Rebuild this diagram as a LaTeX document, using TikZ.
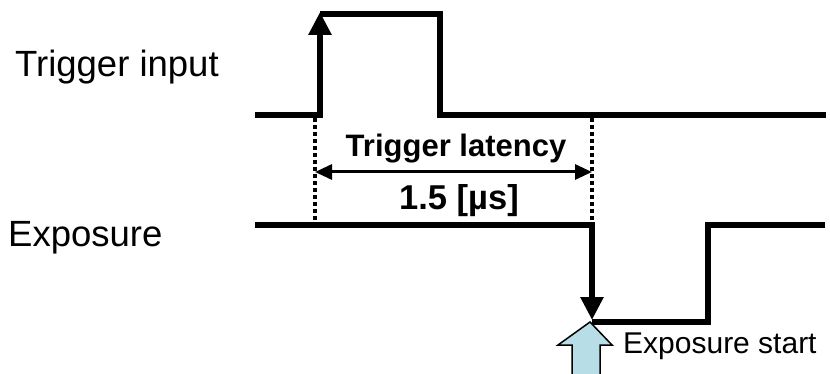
\documentclass[tikz,border=0pt]{standalone}
\usepackage{fontspec}
\setmainfont{Liberation Sans}
\usetikzlibrary{arrows.meta}
\definecolor{startblue}{RGB}{183,222,230}
\tikzset{
  signal/.style={line width=6pt, line join=miter, line cap=butt},
  edgearrow/.style={signal, -{Triangle[length=23pt,width=22pt]}},
  guide/.style={line width=3.5pt, dash pattern=on 4pt off 3pt},
  span/.style={line width=3pt, {Triangle[length=17pt,width=15pt]}-{Triangle[length=17pt,width=15pt]}},
  label/.style={inner sep=0pt, anchor=base west, font=\fontsize{36.5}{40}\selectfont},
  boldlabel/.style={inner sep=0pt, anchor=base, font=\fontsize{31}{34}\selectfont\bfseries},
  valuelabel/.style={inner sep=0pt, anchor=base, font=\fontsize{34.5}{38}\selectfont\bfseries},
  smalllabel/.style={inner sep=0pt, anchor=base west, font=\fontsize{30}{33}\selectfont},
}
\begin{document}
\begin{tikzpicture}[x=1pt, y=-1pt]
\useasboundingbox (0,0) rectangle (830,374);
\clip (0,0) rectangle (830,374);

% trigger waveform
\coordinate (t0) at (255,115);
\coordinate (trise) at (320,115);
\coordinate (ttop) at (320,12);
\coordinate (thigh) at (320,14);
\coordinate (tfallh) at (440,14);
\coordinate (tfalll) at (440,115);
\coordinate (tend) at (826,115);
\draw[edgearrow] (t0) -- (trise) -- (ttop);
\draw[signal] (thigh) -- (tfallh) -- (tfalll) -- (tend);

% exposure waveform
\coordinate (e0) at (255,225);
\coordinate (efall) at (592,225);
\coordinate (ebot) at (592,320);
\coordinate (elow) at (592,322);
\coordinate (erisel) at (708,322);
\coordinate (eriseh) at (708,225);
\coordinate (eend) at (825,225);
\draw[edgearrow] (e0) -- (efall) -- (ebot);
\draw[signal] (elow) -- (erisel) -- (eriseh) -- (eend);

% latency guides and span
\coordinate (g1a) at (315,118);
\coordinate (g1b) at (315,222);
\coordinate (g2a) at (592,118);
\coordinate (g2b) at (592,222);
\draw[guide] (g1a) -- (g1b);
\draw[guide] (g2a) -- (g2b);
\coordinate (s1) at (315,172);
\coordinate (s2) at (592,172);
\draw[span] (s1) -- (s2);
\node[boldlabel] (lat) at (456,157) {Trigger latency};
\node[valuelabel] (val) at (459,210) {1.5 [µs]};

% signal names
\node[label] (trig) at (15,77) {Trigger input};
\node[label] (expo) at (8,247) {Exposure};

% exposure start marker
\draw[line width=1.5pt, fill=startblue, line join=miter]
  (590,322) -- (612,345) -- (600,345) -- (600,380) -- (572,380)
  -- (572,345) -- (558,345) -- cycle;
\node[smalllabel] (start) at (623,353) {Exposure start};
\end{tikzpicture}
\end{document}
